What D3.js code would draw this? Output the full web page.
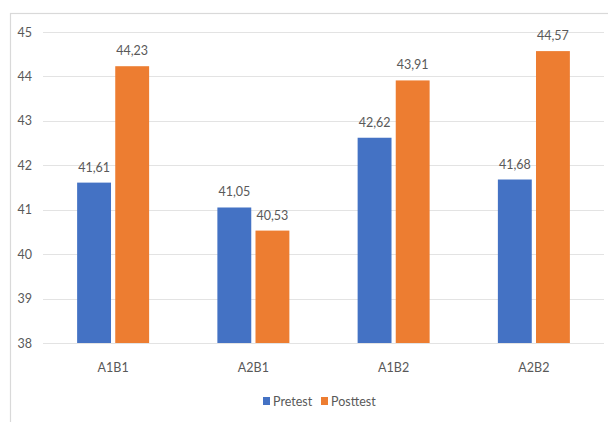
<!DOCTYPE html>
<html>
<head>
<meta charset="utf-8">
<script src="https://cdn.jsdelivr.net/npm/d3@7"></script>
<style>
  html, body { margin: 0; padding: 0; background: #fff; }
  svg { display: block; font-family: Lato, "Open Sans", sans-serif; }
</style>
</head>
<body>
<svg id="chart" width="608" height="422"></svg>
<script>
const categories = ["A1B1", "A2B1", "A1B2", "A2B2"];
const seriesNames = ["Pretest", "Posttest"];
const pretest = [41.61, 41.05, 42.62, 41.68];
const posttest = [44.23, 40.53, 43.91, 44.57];
const yTicks = [38, 39, 40, 41, 42, 43, 44, 45];
const colors = ["#4472C4", "#ED7D31"];

const svg = d3.select("#chart");
const W = 608, H = 422;
const plot = { left: 43, right: 604, top: 32, bottom: 343 };

// outer chart frame (extends past the right and bottom edges)
svg.append("rect")
  .attr("x", 10.5).attr("y", 13.5)
  .attr("width", W + 10).attr("height", H + 10)
  .attr("fill", "none").attr("stroke", "#d9d9d9").attr("stroke-width", 1.2);

const x = d3.scaleBand().domain(categories).range([plot.left, plot.right]);
const y = d3.scaleLinear().domain([38, 45]).range([plot.bottom, plot.top]);
const barW = 32, gap = 8;
const xs = d3.scaleBand().domain(seriesNames)
  .range([0, barW * 2 + gap]).paddingInner(gap / (barW * 2 + gap));

// gridlines
svg.append("g").selectAll("line").data(yTicks).join("line")
  .attr("x1", plot.left).attr("x2", plot.right)
  .attr("y1", d => Math.round(y(d)) + 0.5).attr("y2", d => Math.round(y(d)) + 0.5)
  .attr("stroke", "#e3e3e3").attr("stroke-width", 1);

// y axis labels
const yAxis = d3.axisLeft(y).tickValues(yTicks).tickFormat(d3.format("d")).tickSize(0).tickPadding(0);
const gy = svg.append("g").attr("transform", `translate(${plot.left - 11},0)`).call(yAxis);
gy.select(".domain").remove();
gy.selectAll("text").attr("fill", "#595959").style("font-size", "12.5px")
  .style("font-family", "Lato, 'Open Sans', sans-serif");

// x axis labels
const xAxis = d3.axisBottom(x).tickSize(0).tickPadding(0);
const gx = svg.append("g").attr("transform", `translate(0,${plot.bottom + 20})`).call(xAxis);
gx.select(".domain").remove();
gx.selectAll("text").attr("fill", "#595959").style("font-size", "12.5px")
  .style("font-family", "Lato, 'Open Sans', sans-serif");

const rows = categories.map((c, i) => ({ cat: c, vals: [pretest[i], posttest[i]] }));
const groups = svg.append("g").selectAll("g").data(rows).join("g")
  .attr("transform", d => `translate(${x(d.cat) + x.bandwidth() / 2 - (barW * 2 + gap) / 2},0)`);

const fmt = v => d3.format(".2f")(v).replace(".", ",");

groups.selectAll("rect")
  .data(d => d.vals.map((v, k) => ({ v, s: seriesNames[k], k })))
  .join("rect")
  .attr("x", d => xs(d.s)).attr("width", xs.bandwidth())
  .attr("y", d => y(d.v)).attr("height", d => y(38) - y(d.v))
  .attr("fill", d => colors[d.k]);

groups.selectAll("text.val")
  .data(d => d.vals.map((v, k) => ({ v, s: seriesNames[k], k })))
  .join("text").attr("class", "val")
  .attr("x", d => xs(d.s) + xs.bandwidth() / 2)
  .attr("y", d => y(d.v) - 11)
  .attr("text-anchor", "middle")
  .attr("fill", "#595959").style("font-size", "12.5px")
  .text(d => fmt(d.v));

// legend
const legend = svg.append("g").attr("transform", "translate(263,406)");
const items = legend.selectAll("g").data(seriesNames).join("g")
  .attr("transform", (d, i) => `translate(${i * 58},0)`);
items.append("rect").attr("x", 0).attr("y", -9).attr("width", 7).attr("height", 8)
  .attr("fill", (d, i) => colors[i]);
items.append("text").attr("x", 10).attr("y", -0.5)
  .attr("fill", "#595959").style("font-size", "12.5px").text(d => d);
</script>
</body>
</html>
